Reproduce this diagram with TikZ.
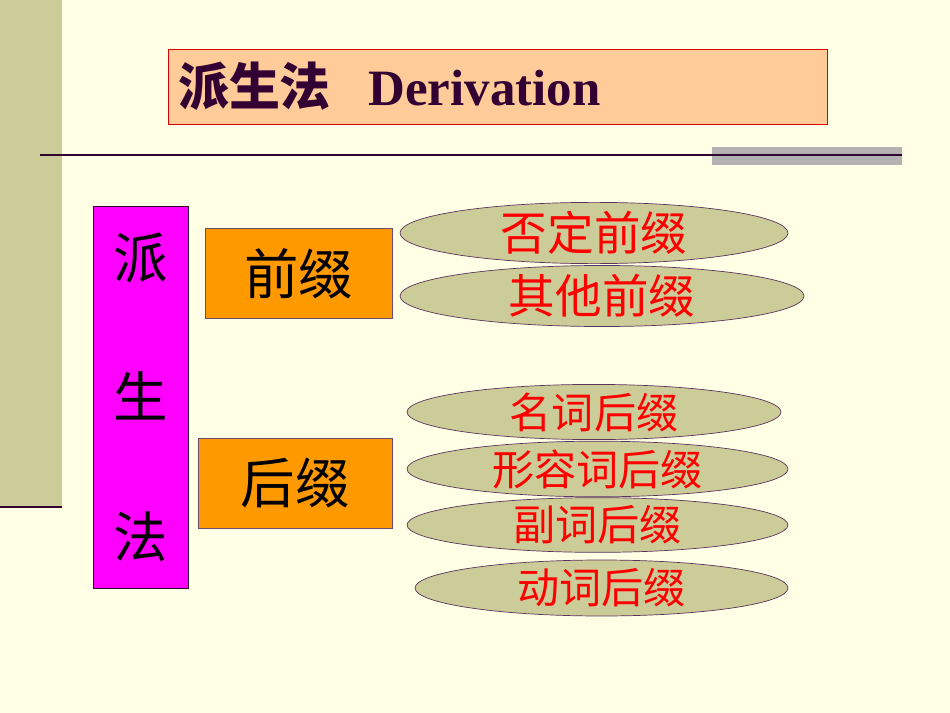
\documentclass[tikz,border=0pt]{standalone}
\usepackage{fontspec}
\usepackage{tikz}
\usepackage{xcolor}
\usetikzlibrary{shapes.geometric}
\setmainfont{Liberation Serif}
\newfontfamily\cjk{Noto Sans CJK SC}

\definecolor{slidebg}{HTML}{FFFFE5}
\definecolor{olivebar}{HTML}{CCCC99}
\definecolor{darkplum}{HTML}{330033}
\definecolor{peach}{HTML}{FFCC99}
\definecolor{barorange}{HTML}{FF9900}
\definecolor{shadegray}{HTML}{B2B2B2}
\definecolor{puremagenta}{HTML}{FF00FF}

\begin{document}
\begin{tikzpicture}[
  x=0.02cm, y=-0.02cm,
  titlebox/.style={draw=red!85!black, fill=peach, minimum width=13.18cm, minimum height=1.5cm,
    text width=12.78cm, align=left, inner sep=0.2cm, font=\fontsize{29}{32}\selectfont\bfseries, text=darkplum},
  rootbox/.style={draw=darkplum, fill=puremagenta, minimum width=1.9cm, minimum height=7.64cm,
    font=\cjk\fontsize{31}{56}\selectfont, align=center},
  affixbox/.style={draw=darkplum!70, fill=barorange, minimum height=1.8cm, inner sep=0pt,
    font=\cjk\fontsize{31}{34}\selectfont},
  kind/.style={ellipse, draw=darkplum!80, fill=olivebar, inner sep=0pt, text=red,
    font=\cjk\fontsize{24}{26}\selectfont},
]
% Background
\fill[slidebg] (0,0) rectangle (950,713);
\useasboundingbox (0,0) rectangle (950,713);
\fill[olivebar] (0,0) rectangle (62,507);
\draw[darkplum, line width=1.6pt] (0,507) -- (62,507);
% Title
\node[titlebox] (title) at (497.5,86.5) {{\cjk 派生法}\hspace{0.75cm}Derivation};
\fill[shadegray] (712,147) rectangle (902,165);
\draw[darkplum, line width=1.2pt] (40,155) -- (902,155);
% Left column
\node[rootbox] (root) at (140.5,397) {派\\[0.82cm]生\\[0.82cm]法};
\node[affixbox, minimum width=3.74cm] (prefix) at (298.5,273.5) {前缀};
\node[affixbox, minimum width=3.88cm] (suffix) at (295,483) {后缀};
% Prefix kinds
\node[kind, minimum width=7.76cm, minimum height=1.04cm, font=\cjk\fontsize{26.5}{28}\selectfont] (neg) at (594,233) {否定前缀};
\node[kind, minimum width=8.08cm, minimum height=1.16cm, font=\cjk\fontsize{26.5}{28}\selectfont] (otherpre) at (602,296) {其他前缀};
% Suffix kinds
\node[kind, minimum width=7.48cm, minimum height=1.0cm] (noun) at (594,412) {名词后缀};
\node[kind, minimum width=7.62cm, minimum height=0.88cm] (adj) at (597.5,469) {形容词后缀};
\node[kind, minimum width=7.62cm, minimum height=1.0cm] (adv) at (597.5,525) {副词后缀};
\node[kind, minimum width=7.46cm, minimum height=1.12cm] (verb) at (601.5,588) {动词后缀};
\end{tikzpicture}
\end{document}
